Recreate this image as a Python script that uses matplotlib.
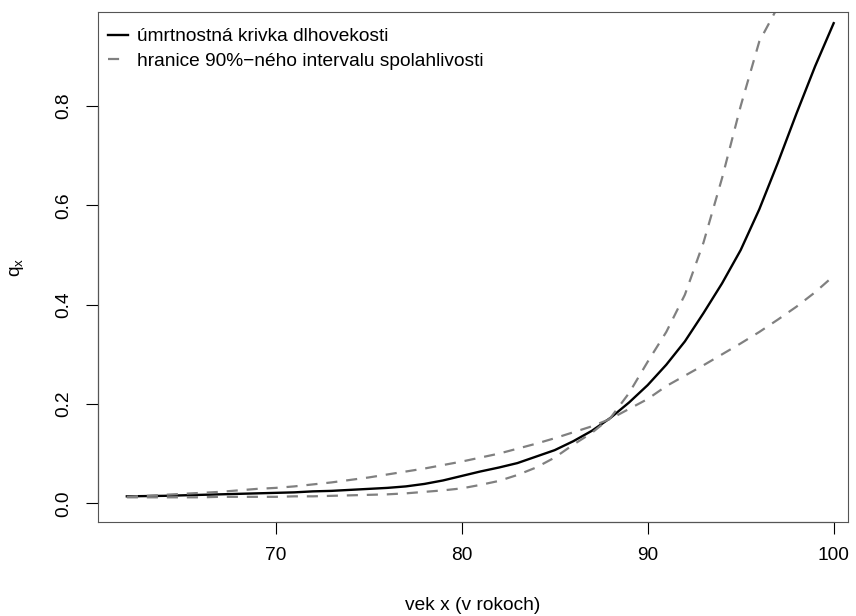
import numpy as np
import matplotlib
matplotlib.use("Agg")
import matplotlib.pyplot as plt

plt.rcParams["font.family"] = ["Liberation Sans", "DejaVu Sans"]
plt.rcParams["mathtext.default"] = "regular"

# vek (roky) a odhady q_x
vek = np.arange(62, 101)
qx = [0.014, 0.0145, 0.015, 0.016, 0.017, 0.018, 0.019, 0.020, 0.021, 0.022,
      0.024, 0.025, 0.027, 0.029, 0.031, 0.034, 0.039, 0.046, 0.055, 0.064,
      0.072, 0.081, 0.094, 0.107, 0.125, 0.146, 0.172, 0.203, 0.238, 0.279,
      0.326, 0.383, 0.443, 0.510, 0.592, 0.686, 0.785, 0.880, 0.967]
# hranice intervalu spolahlivosti
qx_dolna = [0.013, 0.015, 0.017, 0.019, 0.021, 0.023, 0.026, 0.029, 0.031, 0.034,
            0.038, 0.042, 0.047, 0.052, 0.058, 0.064, 0.070, 0.077, 0.084, 0.092,
            0.100, 0.110, 0.120, 0.131, 0.143, 0.155, 0.170, 0.190, 0.210, 0.236,
            0.257, 0.278, 0.300, 0.322, 0.345, 0.370, 0.396, 0.425, 0.458]
qx_horna = [0.012, 0.012, 0.012, 0.012, 0.012, 0.013, 0.013, 0.013, 0.013, 0.014,
            0.014, 0.015, 0.016, 0.017, 0.018, 0.020, 0.023, 0.026, 0.030, 0.037,
            0.045, 0.057, 0.072, 0.092, 0.118, 0.142, 0.172, 0.222, 0.285, 0.345,
            0.420, 0.525, 0.655, 0.800, 0.930, 1.0, 1.0, 1.0, 1.0]

xticks = [70, 80, 90, 100]
yticks = [0.0, 0.2, 0.4, 0.6, 0.8]

fig = plt.figure(figsize=(8.56, 6.16), dpi=100)
ax = fig.add_axes([98 / 856, 1 - 522 / 616, 750 / 856, 510 / 616])

ax.plot(vek, qx, color="black", lw=1.7, label="úmrtnostná krivka dlhovekosti")
ax.plot(vek, qx_horna, color="#808080", lw=1.6, dashes=(5, 4),
        label="hranice 90%\u2212ného intervalu spolahlivosti")
ax.plot(vek, qx_dolna, color="#808080", lw=1.6, dashes=(5, 4))

ax.set_xlim(60.45, 100.77)
ax.set_ylim(-0.0377, 0.9895)
ax.set_xticks(xticks)
ax.set_yticks(yticks)
ax.set_xticklabels([str(t) for t in xticks])
ax.set_yticklabels([f"{t:.1f}" for t in yticks], rotation=90, va="center")
ax.tick_params(length=8.3, width=0.8, labelsize=13.8, pad=10, color="black")

for s in ax.spines.values():
    s.set_color("#555555")
    s.set_linewidth(0.8)
# axis lines span only the tick range
ax.plot([xticks[0], xticks[-1]], [0, 0], transform=ax.get_xaxis_transform(),
        color="black", lw=0.8, clip_on=False)
ax.plot([0, 0], [yticks[0], yticks[-1]], transform=ax.get_yaxis_transform(),
        color="black", lw=0.8, clip_on=False)

fig.text(473 / 856, 1 - 605 / 616, "vek x (v rokoch)", ha="center", va="center",
         fontsize=13.8)
fig.text(17 / 856, 1 - 267 / 616, "q$_x$", ha="center", va="center",
         rotation=90, fontsize=13.8)

ax.legend(loc="upper left", bbox_to_anchor=(10 / 750, 1 - 16 / 510),
          frameon=False, fontsize=13.8, handlelength=1.05,
          handletextpad=0.45, borderpad=0.0, borderaxespad=0.0,
          labelspacing=0.38)

fig.savefig("out.png", dpi=100)
